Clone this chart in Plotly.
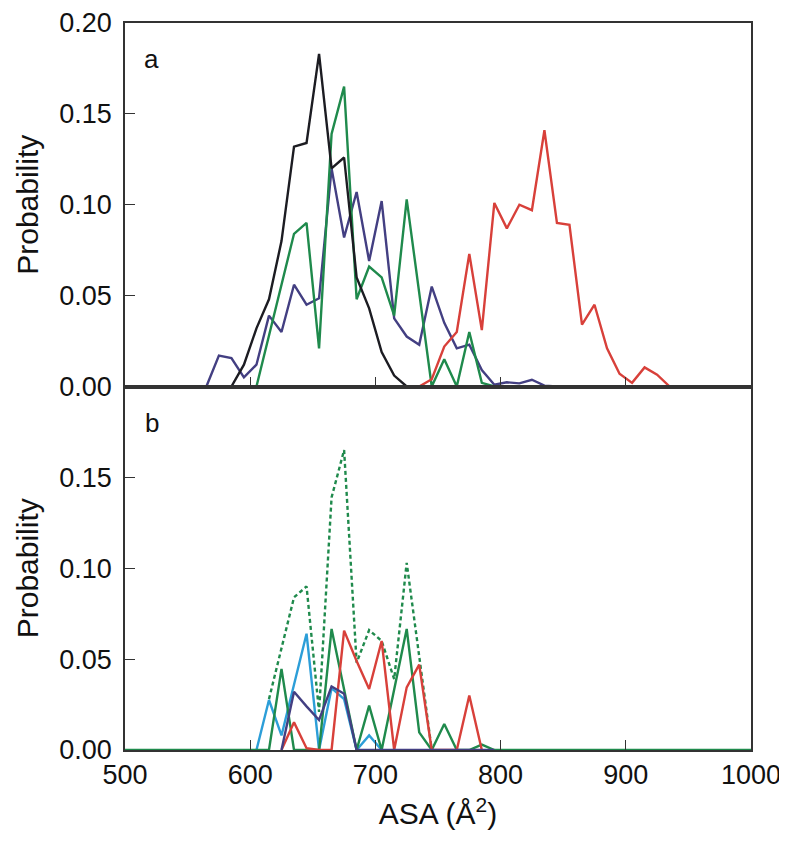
import plotly.graph_objects as go
from plotly.subplots import make_subplots

# Panel a: ASA probability distributions
black_x = [585, 595, 605, 615, 625, 635, 645, 655, 665, 675, 685, 695, 705, 715, 725]
black_y = [0, 0.012, 0.032, 0.048, 0.080, 0.132, 0.134, 0.183, 0.120, 0.126, 0.060, 0.043, 0.019, 0.006, 0]

navy_x = [565, 575, 585, 595, 605, 615, 625, 635, 645, 655, 665, 675, 685, 695, 705,
          715, 725, 735, 745, 755, 765, 775, 785, 795, 805, 815, 825, 835, 845]
navy_y = [0, 0.017, 0.0156, 0.005, 0.012, 0.039, 0.030, 0.056, 0.045, 0.0485, 0.120, 0.082, 0.107, 0.069, 0.102,
          0.0375, 0.0275, 0.023, 0.055, 0.035, 0.021, 0.023, 0.009, 0.001, 0.0023, 0.0017, 0.0037, 0.0005, 0]

green_x = [605, 615, 625, 635, 645, 655, 665, 675, 685, 695, 705, 715, 725, 735, 745, 755, 765, 775, 785, 795]
green_y = [0, 0.028, 0.056, 0.084, 0.090, 0.021, 0.139, 0.165, 0.048, 0.066, 0.060, 0.039, 0.103, 0.051, 0,
           0.015, 0, 0.030, 0.002, 0]

red_x = [585, 735, 745, 755, 765, 775, 785, 795, 805, 815, 825, 835, 845, 855, 865, 875, 885, 895, 905, 915, 925, 935]
red_y = [0, 0, 0.004, 0.022, 0.030, 0.073, 0.031, 0.101, 0.087, 0.100, 0.097, 0.141, 0.090, 0.089, 0.034, 0.045,
         0.021, 0.007, 0.002, 0.0105, 0.0065, 0]

# Panel b: components (dashed = total green from panel a)
dash_x = green_x[1:15]
dash_y = green_y[1:15]

blue_b_x = [605, 615, 625, 635, 645, 655, 665, 675, 685, 695, 705]
blue_b_y = [0, 0.0275, 0.008, 0.036, 0.064, 0, 0.034, 0.028, 0, 0.008, 0]

navy_b_x = [625, 635, 645, 655, 665, 675, 685, 795]
navy_b_y = [0, 0.032, 0.024, 0.0165, 0.035, 0.031, 0, 0]

green_b_x = [500, 615, 625, 635, 655, 665, 685, 695, 705, 715, 725, 735, 745, 755, 765, 775, 785, 795, 1000]
green_b_y = [0, 0, 0.0446, 0, 0, 0.0666, 0, 0.0244, 0, 0.033, 0.0666, 0.0097, 0, 0.0143, 0, 0, 0.003, 0, 0]

red_b_x = [625, 635, 645, 655, 665, 675, 685, 695, 705, 715, 725, 735, 745, 765, 775, 785]
red_b_y = [0, 0.0152, 0.001, 0, 0, 0.0657, 0.049, 0.0336, 0.060, 0, 0.0345, 0.047, 0, 0, 0.030, 0]

BLACK = "#1c1c22"
NAVY = "#433f82"
GREEN = "#1f8a4c"
RED = "#d8403a"
BLUE = "#2c9ed8"
FONT = "Liberation Sans, Arial, sans-serif"

fig = make_subplots(rows=2, cols=1, shared_xaxes=True, vertical_spacing=0)


def add_line(x, y, color, row, dash="solid"):
    fig.add_trace(go.Scatter(x=x, y=y, mode="lines", line=dict(color=color, width=2.4, dash=dash),
                             showlegend=False), row=row, col=1)


# panel a
add_line(navy_x, navy_y, NAVY, 1)
add_line(green_x, green_y, GREEN, 1)
add_line(black_x, black_y, BLACK, 1)
add_line(red_x, red_y, RED, 1)

# panel b
add_line(dash_x, dash_y, GREEN, 2, dash="4px,3px")
add_line(blue_b_x, blue_b_y, BLUE, 2)
add_line(green_b_x, green_b_y, GREEN, 2)
add_line(red_b_x, red_b_y, RED, 2)
add_line(navy_b_x, navy_b_y, NAVY, 2)

axis_style = dict(showgrid=False, zeroline=False, showline=True, linecolor="#333", linewidth=1.6,
                  mirror=True, ticks="inside", ticklen=10, tickwidth=1.3, tickcolor="#333", automargin=False,
                  ticklabeloverflow="allow", tickfont=dict(family=FONT, size=27, color="#111"))

fig.update_xaxes(range=[500, 1000], tickvals=[500, 600, 700, 800, 900, 1000], **axis_style)
fig.update_xaxes(row=2, col=1, title=dict(text="ASA (Å<sup>2</sup>)", font=dict(family=FONT, size=30, color="#111"),
                                          standoff=14))
fig.update_yaxes(range=[0, 0.2], tickformat=".2f", ticklabelstandoff=6,
                 title=dict(text="Probability", font=dict(family=FONT, size=30, color="#111"), standoff=12),
                 **axis_style)
fig.update_yaxes(row=1, col=1, tickvals=[0, 0.05, 0.10, 0.15, 0.20])
fig.update_yaxes(row=2, col=1, tickvals=[0, 0.05, 0.10, 0.15])

for label, ypos in [("a", 0.951), ("b", 0.450)]:
    fig.add_annotation(text=label, xref="paper", yref="paper", x=0.043, y=ypos, showarrow=False,
                       font=dict(family=FONT, size=26, color="#111"), xanchor="center", yanchor="middle")

# page body adds an 8px margin, so the figure is a little smaller than the window
fig.update_layout(width=779, height=837, plot_bgcolor="white", paper_bgcolor="white",
                  margin=dict(l=117, r=36, t=15, b=95))

fig.write_html("out.html")
